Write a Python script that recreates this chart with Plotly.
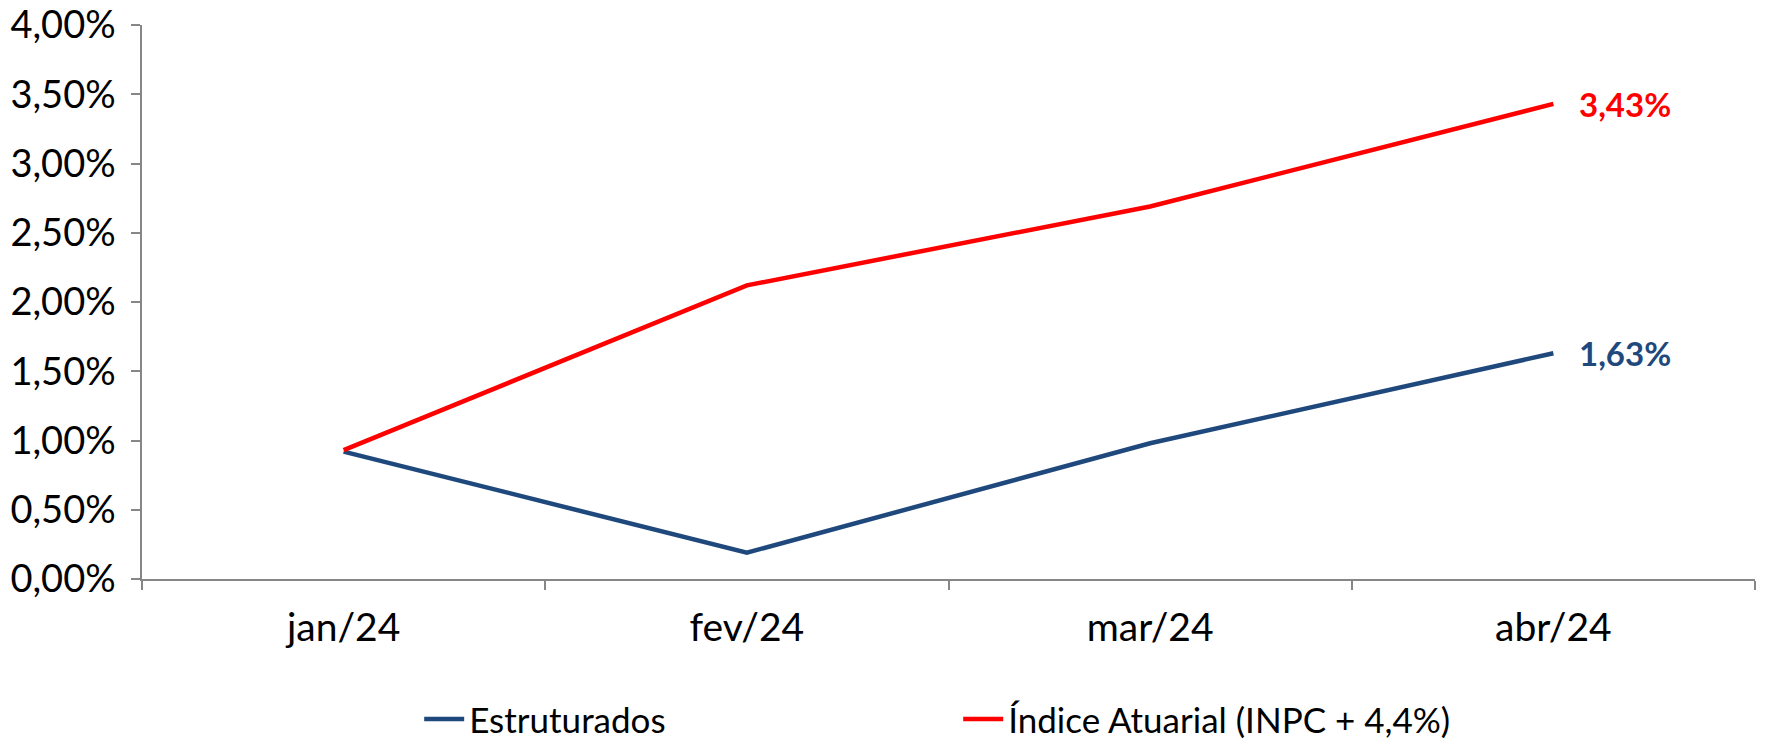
import plotly.graph_objects as go

categories = ["jan/24", "fev/24", "mar/24", "abr/24"]
estruturados = [0.92, 0.19, 0.98, 1.63]
indice_atuarial = [0.93, 2.12, 2.69, 3.43]
y_ticks = [0, 0.5, 1.0, 1.5, 2.0, 2.5, 3.0, 3.5, 4.0]
y_tick_text = [f"{v:.2f}%".replace(".", ",") for v in y_ticks]

BLUE = "#1F497D"
RED = "#FF0000"
FONT = "Lato, 'Open Sans', sans-serif"

fig = go.Figure()
for name, vals, color in [("Estruturados", estruturados, BLUE),
                          ("Índice Atuarial (INPC + 4,4%)", indice_atuarial, RED)]:
    fig.add_trace(go.Scatter(
        x=categories, y=vals, name=name, mode="lines",
        line=dict(color=color, width=4.5),
    ))
    fig.add_annotation(
        x=categories[-1], y=vals[-1], xref="x", yref="y",
        text=f"<b>{vals[-1]:.2f}%</b>".replace(".", ","),
        showarrow=False, xanchor="left", yanchor="middle", xshift=24,
        font=dict(color=color, size=33, family=FONT),
    )

# page body has an 8px margin, so the figure is sized to fit the window
fig.update_layout(
    width=1761, height=732,
    margin=dict(l=134, r=14, t=17, b=161, autoexpand=False),
    plot_bgcolor="white", paper_bgcolor="white",
    separators=",.",
    font=dict(family=FONT, size=39, color="#000000"),
    showlegend=True,
    legend=dict(orientation="h", x=0.506, xanchor="center", y=-0.253, yanchor="middle",
                font=dict(size=35), entrywidth=484, itemwidth=40),
    hovermode=False,
)
fig.update_xaxes(
    type="category", tickson="boundaries", ticks="outside", ticklen=9,
    tickcolor="#868686", tickwidth=1.5,
    showline=True, linecolor="#868686", linewidth=1.5,
    showgrid=False, zeroline=False, ticklabelstandoff=13,
    range=[-0.5, 3.5],
)
fig.update_yaxes(
    range=[0, 4], tickvals=y_ticks, ticktext=y_tick_text,
    tickfont=dict(size=38), ticklabeloverflow="allow",
    ticks="outside", ticklen=9, tickcolor="#868686", tickwidth=1.5,
    showline=True, linecolor="#868686", linewidth=1.5,
    showgrid=False, zeroline=False, ticklabelstandoff=8,
)

fig.write_html("out.html")
